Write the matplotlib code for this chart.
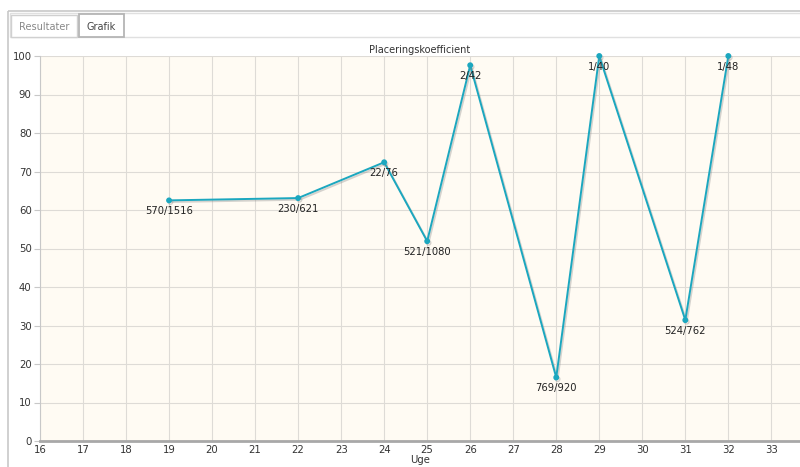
import matplotlib.pyplot as plt
import matplotlib.patheffects as pe
from matplotlib.patches import Rectangle

weeks = [19, 22, 24, 25, 26, 28, 29, 31, 32]
coef = [62.5, 63.1, 72.4, 51.9, 97.6, 16.5, 100.0, 31.4, 100.0]
labels = ['570/1516', '230/621', '22/76', '521/1080', '2/42', '769/920', '1/40', '524/762', '1/48']
xticks = list(range(16, 34))
yticks = list(range(0, 101, 10))

fig = plt.figure(figsize=(8, 4.67), dpi=100)

# page frame and tabs, drawn in pixel coords
bg = fig.add_axes([0, 0, 1, 1], zorder=0)
bg.set_xlim(0, 800)
bg.set_ylim(467, 0)
bg.axis('off')
bg.add_patch(Rectangle((8, 11), 800, 470, fill=False, edgecolor='#c8c8c8', lw=1.2))
bg.add_patch(Rectangle((10, 13), 800, 24, fill=False, edgecolor='#e0e0e0', lw=1))
bg.add_patch(Rectangle((11, 15), 66, 22, facecolor='white', edgecolor='#d0d0d0', lw=1))
bg.add_patch(Rectangle((79, 14), 45, 23, facecolor='white', edgecolor='#b5b5b5', lw=1.3))
bg.text(44, 26.5, 'Resultater', ha='center', va='center', fontsize=7, color='#888888')
bg.text(101.5, 26.5, 'Grafik', ha='center', va='center', fontsize=7, color='#444444')

ax = fig.add_axes([40 / 800, 1 - 441 / 467, 760 / 800, 385 / 467], zorder=1)
ax.set_facecolor('#fffbf3')
ax.set_xlim(16, 16 + 760 / 43.02)
ax.set_ylim(0, 100)
ax.set_xticks(xticks)
ax.set_yticks(yticks)
ax.grid(True, color='#dedbd6', lw=0.8)
ax.set_axisbelow(True)
for s in ['top', 'right']:
    ax.spines[s].set_visible(False)
ax.spines['left'].set_color('#c8c8c8')
ax.spines['bottom'].set_color('#a8a8a8')
ax.spines['bottom'].set_linewidth(2)
ax.tick_params(axis='y', labelsize=7.3, colors='#c8c8c8', labelcolor='#333333', length=4, pad=2)
ax.tick_params(axis='x', labelsize=7.3, labelcolor='#333333', length=0, pad=3)

ax.plot(weeks, coef, color='#1ba7bf', lw=1.4, marker='o', ms=3.2, clip_on=False, zorder=3,
        path_effects=[pe.SimpleLineShadow(offset=(1, -1.2), shadow_color='#888888', alpha=0.35), pe.Normal()])
for x, y, t in zip(weeks, coef, labels):
    ax.annotate(t, (x, y), xytext=(0, -4), textcoords='offset points', ha='center', va='top',
                fontsize=7.2, color='#222222', zorder=4)

ax.set_title('Placeringskoefficient', fontsize=7, color='#333333', pad=2)
ax.set_xlabel('Uge', fontsize=7.3, color='#333333', labelpad=0)

fig.savefig('out.png', dpi=100)
